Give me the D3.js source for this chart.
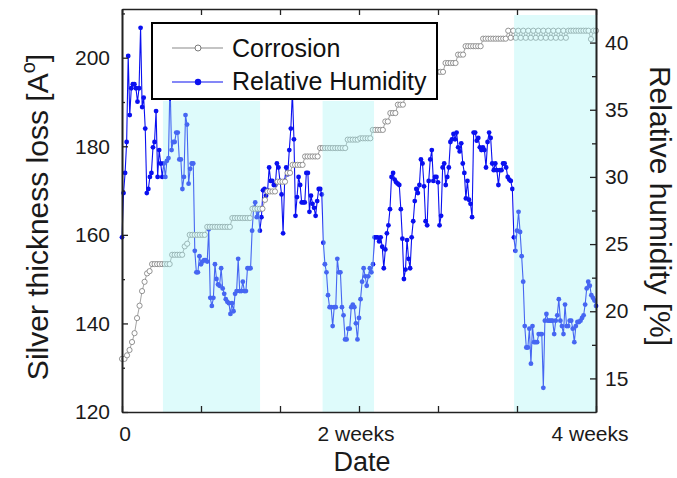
<!DOCTYPE html>
<html>
<head>
<meta charset="utf-8">
<script src="https://cdn.jsdelivr.net/npm/d3@7"></script>
<style>
  html, body { margin: 0; padding: 0; background: #fff; }
  svg { display: block; font-family: "Liberation Sans", Arial, sans-serif; }
</style>
</head>
<body>
<svg id="chart" width="677" height="478"></svg>
<script>
// ---------------- data ----------------
const xMaxDays = 28.36;                       // extent of the time axis (days)
const xLabelDays = [0, 14, 28];
const xTickLabels = ["0", "2 weeks", "4 weeks"];
const leftMajorTicks = [120, 140, 160, 180, 200];
const leftMinorTicks = [130, 150, 170, 190, 210];
const rightMajorTicks = [15, 20, 25, 30, 35, 40];
const rightMinorTicks = [17.5, 22.5, 27.5, 32.5, 37.5];
const leftDomain = [120, 211];
const rightDomain = [12.5, 42.5];

// shaded periods (days)
const shadeStart = [2.45, 12.0, 23.46];
const shadeEnd   = [8.26, 15.08, 28.36];

// Relative humidity [%], evenly spaced in time over the axis
const rhValues = [
  25.5, 28.8, 30.3, 32.6, 39.0, 34.6, 36.6, 36.9, 36.9, 36.6,
  35.6, 36.6, 41.1, 35.2, 35.9, 33.6, 28.8, 29.1, 30.0, 30.3,
  32.2, 32.6, 34.9, 30.0, 32.0, 31.0, 30.0, 31.0, 30.0, 31.2,
  31.4, 37.2, 32.0, 32.6, 32.6, 33.3, 33.3, 31.3, 31.3, 29.1,
  30.0, 34.6, 33.9, 29.5, 30.6, 31.0, 31.0, 24.5, 22.9, 22.9,
  24.1, 23.5, 23.7, 23.8, 23.8, 23.7, 26.1, 21.0, 20.4, 21.0,
  23.5, 22.4, 22.0, 21.9, 23.2, 21.7, 21.3, 20.9, 20.7, 20.6,
  19.8, 20.6, 20.0,
  21.3, 21.5, 23.9, 21.5, 21.5, 22.2, 21.5, 21.5, 23.2, 23.2,
  23.2, 26.0, 27.7, 28.1, 27.0, 27.5, 26.0, 27.0, 29.0, 29.1,
  28.6, 29.0, 30.7, 29.7, 29.7, 29.4, 29.4, 31.0, 30.7, 29.7,
  28.7, 25.8, 29.7, 30.7, 30.2, 32.0, 33.6, 36.3, 32.8, 27.1,
  28.5, 30.0, 29.4, 28.1, 28.1, 28.1, 30.3, 30.3, 27.4, 28.6,
  28.0, 27.7, 27.1, 28.2, 29.1, 29.1, 28.7, 25.1, 23.5, 22.9,
  21.2, 20.3, 20.3, 18.9, 20.3, 20.3, 23.9, 22.9, 22.9, 20.3,
  19.7, 17.9, 17.9, 18.7, 18.7, 20.3, 20.5, 20.3, 19.1, 17.9, 19.5,
  20.9, 22.2, 23.2, 22.6, 21.9, 22.6, 23.2, 22.9, 23.5, 25.5,
  25.5, 25.5, 25.2, 25.5, 24.8, 23.2, 24.6, 25.8, 26.4, 27.6,
  30.0, 30.3, 29.8, 29.6, 29.5, 29.4, 27.6, 25.4, 22.4, 23.1,
  25.3, 23.9, 23.2, 25.5, 26.7, 28.2, 29.1, 28.8, 29.4, 31.3,
  31.0, 29.3, 26.7, 26.4, 29.7, 31.3, 32.0, 29.7, 30.0, 30.0,
  29.6, 26.4, 27.1, 30.7, 31.0, 29.4, 30.0, 30.7, 32.6, 32.8,
  33.2, 32.8, 33.3, 32.2, 31.9, 32.5, 31.0, 30.3, 28.4, 29.7,
  28.3, 28.0, 27.0, 33.3, 33.3, 32.7,
  32.9, 32.2, 32.0, 32.2, 32.0, 30.7, 32.6, 33.3, 32.9, 31.0,
  30.5, 31.0, 30.5, 29.4, 30.5, 30.5, 31.0, 31.0, 30.7, 30.0,
  29.8, 29.7, 29.1, 25.5, 24.5, 26.0, 27.4, 25.9, 24.1, 22.2,
  18.9, 17.3, 17.3, 18.7, 16.1, 18.9, 17.7, 17.7, 17.7, 18.3,
  18.3, 18.3, 14.3, 19.3, 19.8, 19.3, 19.3, 19.3, 19.3, 18.3,
  19.3, 19.7, 20.9, 19.3, 18.9, 18.3, 20.5, 18.9, 18.9, 19.3,
  19.3, 18.7, 17.7, 18.9, 19.2, 19.2, 19.3, 19.5, 19.7, 20.5,
  21.7, 22.2, 21.9, 21.2, 21.0, 20.8, 20.4
];

// Silver thickness loss [A], evenly spaced in time over the axis
const corrosionValues = [
  132.0, 132.0, 132.8, 134.0, 135.8, 137.8, 141.2, 144.0, 147.3, 149.4, 151.3, 151.8,
  153.4, 153.4, 153.4, 153.4, 153.4, 153.4, 153.4, 153.4,
  155.5, 155.5, 155.5, 155.5, 155.5,
  157.4, 158.0,
  160.0, 160.0, 160.0, 160.0, 160.0, 160.0, 160.0,
  161.8, 161.8, 161.8, 161.8, 161.8, 161.8, 161.8, 161.8, 161.8, 161.8,
  163.8, 163.8, 163.8, 163.8, 163.8, 163.8, 163.8, 163.8,
  165.9, 165.9, 165.9, 165.9, 165.9,
  167.9,
  169.8, 169.8, 169.8, 169.8,
  172.0, 172.0, 172.0, 172.0,
  174.0, 174.0,
  175.8, 175.8, 175.8, 175.8, 175.8,
  177.7, 177.7, 177.7, 177.7, 177.7, 177.7,
  179.6, 179.6, 179.6, 179.6, 179.6, 179.6, 179.6, 179.6, 179.6, 179.6, 179.6,
  181.5, 181.5, 181.5, 181.5, 181.5,
  181.8, 181.8, 181.8, 181.8, 181.8,
  183.7, 183.7, 183.7, 183.7, 183.7,
  185.6, 185.6,
  187.5, 187.5, 187.5,
  189.4, 189.4, 189.4,
  191.3, 191.3, 191.3,
  193.2, 193.2, 193.2, 193.2,
  195.0, 195.0, 195.0, 195.0,
  196.8, 196.8, 196.8, 196.8, 196.8,
  198.8, 198.8, 198.8, 198.8, 198.8,
  200.7, 200.7, 200.7,
  202.6, 202.6, 202.6, 202.6, 202.6, 202.6, 202.6,
  204.3, 204.3, 204.3, 204.3, 204.3, 204.3, 204.3, 204.3, 204.3, 204.3,
  206.1, 204.5, 206.1, 204.5, 206.1, 204.5, 206.1, 204.5, 206.1, 204.5,
  206.1, 204.5, 206.1, 204.5, 206.1, 204.5, 206.1, 204.5, 206.1, 204.5,
  206.1, 204.5, 206.1, 204.5, 206.1,
  206.1, 206.1, 206.1, 206.1, 206.1, 206.1, 206.1, 206.1, 204.2, 206.1, 206.1
];

const legendLabels = ["Corrosion", "Relative Humidity"];

// ---------------- drawing ----------------
const svg = d3.select("#chart");
const W = 677, H = 478;
const plot = { left: 122, right: 596, top: 9, bottom: 412 };
const FONT = '"Liberation Sans", Arial, sans-serif';

const x = d3.scaleLinear().domain([0, xMaxDays]).range([plot.left, plot.right]);
const yL = d3.scaleLinear().domain(leftDomain).range([plot.bottom, plot.top]);
const yR = d3.scaleLinear().domain(rightDomain).range([plot.bottom, plot.top]);

const rhData = rhValues.map((v, i) => ({ d: i * xMaxDays / (rhValues.length - 1), v }));
const corData = corrosionValues.map((v, i) => ({ d: i * xMaxDays / (corrosionValues.length - 1), v }));

svg.append("rect").attr("width", W).attr("height", H).attr("fill", "#fff");

// RH series
svg.append("path")
  .datum(rhData)
  .attr("fill", "none")
  .attr("stroke", "#0a10f0")
  .attr("stroke-width", 1.1)
  .attr("d", d3.line().x(p => x(p.d)).y(p => yR(p.v)));
svg.append("g").selectAll("circle").data(rhData).join("circle")
  .attr("cx", p => x(p.d)).attr("cy", p => yR(p.v)).attr("r", 2.4)
  .attr("fill", "#0a10f0");

// Corrosion series
svg.append("path")
  .datum(corData)
  .attr("fill", "none")
  .attr("stroke", "#8a8a8a")
  .attr("stroke-width", 0.8)
  .attr("d", d3.line().x(p => x(p.d)).y(p => yL(p.v)));
svg.append("g").selectAll("circle").data(corData).join("circle")
  .attr("cx", p => x(p.d)).attr("cy", p => yL(p.v)).attr("r", 2.6)
  .attr("fill", "#fff").attr("stroke", "#7a7a7a").attr("stroke-width", 0.8);

// shaded periods (translucent overlay)
const shadeTopPx = [101, 101, 15];
svg.append("g").selectAll("rect").data(shadeStart).join("rect")
  .attr("x", (s, i) => x(s))
  .attr("width", (s, i) => x(shadeEnd[i]) - x(s))
  .attr("y", (s, i) => shadeTopPx[i])
  .attr("height", (s, i) => plot.bottom - shadeTopPx[i])
  .attr("fill", "rgb(168,244,244)")
  .attr("fill-opacity", 0.38);

// legend
const lg = svg.append("g");
lg.append("rect").attr("x", 152).attr("y", 23).attr("width", 285).attr("height", 76)
  .attr("fill", "#fff").attr("stroke", "#000").attr("stroke-width", 2);
lg.append("line").attr("x1", 172).attr("x2", 223).attr("y1", 48).attr("y2", 48)
  .attr("stroke", "#8a8a8a").attr("stroke-width", 1.2);
lg.append("circle").attr("cx", 198).attr("cy", 48).attr("r", 3)
  .attr("fill", "#fff").attr("stroke", "#7a7a7a").attr("stroke-width", 1);
lg.append("line").attr("x1", 172).attr("x2", 223).attr("y1", 82).attr("y2", 82)
  .attr("stroke", "#0a10f0").attr("stroke-width", 1.2);
lg.append("circle").attr("cx", 198).attr("cy", 82).attr("r", 3.2).attr("fill", "#0a10f0");
lg.selectAll("text").data(legendLabels).join("text")
  .attr("x", 232).attr("y", (t, i) => i === 0 ? 57 : 90)
  .attr("font-size", 25).attr("font-family", FONT).attr("fill", "#111")
  .text(t => t);

// axes
function styleAxis(g) {
  g.selectAll("path.domain").attr("stroke", "#222").attr("stroke-width", 1.6);
  g.selectAll(".tick line").attr("stroke", "#222").attr("stroke-width", 1.3);
  g.selectAll(".tick text").attr("font-family", FONT).attr("font-size", 21).attr("fill", "#1a1a1a");
}
const xTicks = d3.range(7).map(k => k * xMaxDays / 6);

svg.append("g").attr("transform", `translate(0,${plot.bottom})`)
  .call(d3.axisBottom(x).tickValues(xTicks).tickSize(-6).tickSizeOuter(0).tickFormat(""))
  .call(styleAxis);
svg.append("g").attr("transform", `translate(0,${plot.top})`)
  .call(d3.axisTop(x).tickValues(xTicks).tickSize(-6).tickSizeOuter(0).tickFormat(""))
  .call(styleAxis);

svg.append("g").attr("transform", `translate(${plot.left},0)`)
  .call(d3.axisLeft(yL).tickValues(leftMinorTicks).tickSize(-3).tickSizeOuter(0).tickFormat(""))
  .call(styleAxis);
svg.append("g").attr("transform", `translate(${plot.left},0)`)
  .call(d3.axisLeft(yL).tickValues(leftMajorTicks).tickSize(-6).tickSizeOuter(0).tickPadding(12).tickFormat(d3.format("d")))
  .call(styleAxis);

svg.append("g").attr("transform", `translate(${plot.right},0)`)
  .call(d3.axisRight(yR).tickValues(rightMinorTicks).tickSize(-4).tickSizeOuter(0).tickFormat(""))
  .call(styleAxis);
svg.append("g").attr("transform", `translate(${plot.right},0)`)
  .call(d3.axisRight(yR).tickValues(rightMajorTicks).tickSize(-6).tickSizeOuter(0).tickPadding(9).tickFormat(d3.format("d")))
  .call(styleAxis);

// x tick labels
svg.append("g").selectAll("text").data(xLabelDays).join("text")
  .attr("x", (d, i) => x(d) + (i === 0 ? 3 : 0))
  .attr("y", 441)
  .attr("text-anchor", "middle")
  .attr("font-family", FONT).attr("font-size", 21).attr("fill", "#1a1a1a")
  .text((d, i) => xTickLabels[i]);

// axis titles
svg.append("text")
  .attr("x", 362).attr("y", 471)
  .attr("text-anchor", "middle")
  .attr("font-family", FONT).attr("font-size", 27).attr("fill", "#1a1a1a")
  .text("Date");

const lt = svg.append("text")
  .attr("transform", "translate(48,217) rotate(-90)")
  .attr("text-anchor", "middle")
  .attr("font-family", FONT).attr("font-size", 30).attr("fill", "#1a1a1a");
lt.append("tspan").text("Silver thickness loss [A");
lt.append("tspan").attr("font-size", 20).attr("dy", -13).text("o");
lt.append("tspan").attr("dy", 13).text("]");

svg.append("text")
  .attr("transform", "translate(650,206) rotate(90)")
  .attr("text-anchor", "middle")
  .attr("font-family", FONT).attr("font-size", 30).attr("fill", "#1a1a1a")
  .text("Relative humidity [%]");
</script>
</body>
</html>
